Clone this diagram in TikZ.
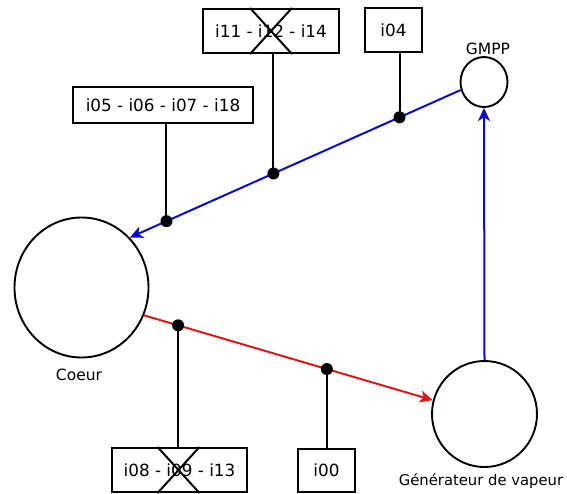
\documentclass[tikz,border=0pt]{standalone}
\usepackage{fontspec}
\setmainfont{DejaVu Sans}
\usetikzlibrary{arrows.meta,shapes.geometric}
\definecolor{fblue}{RGB}{10,10,200}
\definecolor{fred}{RGB}{220,25,25}
\tikzset{
  comp/.style={draw=black, line width=1.9pt, ellipse, inner sep=0pt},
  lbl/.style={font=\fontsize{15.5}{15}\selectfont, inner sep=0pt},
  ibox/.style={draw=black, line width=2.1pt, rectangle, inner sep=0pt, font=\fontsize{16.8}{16}\selectfont},
  flow/.style={line width=2pt, -{Stealth[length=13pt,width=12pt,inset=3.5pt]}},
  tap/.style={circle, fill=black, inner sep=0pt, minimum size=12pt},
  stem/.style={draw=black, line width=2pt},
  xline/.style={draw=black, line width=2pt}
}
\begin{document}
\begin{tikzpicture}[x=1pt,y=-1pt]
\useasboundingbox (0,0) rectangle (567,493);
% components
\node[comp, minimum width=134pt, minimum height=140pt] (coeur) at (81.5,287.5) {};
\node[comp, minimum width=105pt, minimum height=106pt] (gv) at (484.5,414) {};
\node[comp, minimum width=47pt, minimum height=50pt] (gmpp) at (484,82) {};
\node[lbl] (lcoeur) at (79,375) {Coeur};
\node[lbl, font=\fontsize{14.8}{15}\selectfont] (lgv) at (481,481) {Générateur de vapeur};
\node[lbl] (lgmpp) at (488,49) {GMPP};
% boxes
\node[ibox, minimum width=136pt, minimum height=44pt] (b11) at (271,31) {i11 - i12 - i14};
\node[ibox, minimum width=57pt, minimum height=44pt] (b04) at (393.5,30) {i04};
\node[ibox, minimum width=180pt, minimum height=36pt] (b05) at (163,105) {i05 - i06 - i07 - i18};
\node[ibox, minimum width=135pt, minimum height=44pt] (b08) at (179.5,470) {i08 - i09 - i13};
\node[ibox, minimum width=57pt, minimum height=43pt] (b00) at (326.5,470.5) {i00};
% crosses
\draw[xline] ([xshift=-21pt]b11.north) -- ([xshift=21pt]b11.south);
\draw[xline] ([xshift=21pt]b11.north) -- ([xshift=-21pt]b11.south);
\draw[xline] ([xshift=-22pt]b08.north) -- ([xshift=20pt]b08.south);
\draw[xline] ([xshift=20pt]b08.north) -- ([xshift=-22pt]b08.south);
% flows
\draw[flow, fblue] (gmpp.199) -- (coeur.46)
  node[tap, pos=0.185] (t04) {}
  node[tap, pos=0.566] (t11) {}
  node[tap, pos=0.889] (t05) {};
\draw[flow, fred] (coeur.-24) -- (gv.165)
  node[tap, pos=0.118] (t08) {}
  node[tap, pos=0.633] (t00) {};
\draw[flow, fblue] (gv.north) -- (gmpp.south);
% stems
\draw[stem] (t04.center) -- (t04.center |- b04.south);
\draw[stem] (t11.center) -- (t11.center |- b11.south);
\draw[stem] (t05.center) -- (t05.center |- b05.south);
\draw[stem] (t08.center) -- (t08.center |- b08.north);
\draw[stem] (t00.center) -- (t00.center |- b00.north);
\end{tikzpicture}
\end{document}
